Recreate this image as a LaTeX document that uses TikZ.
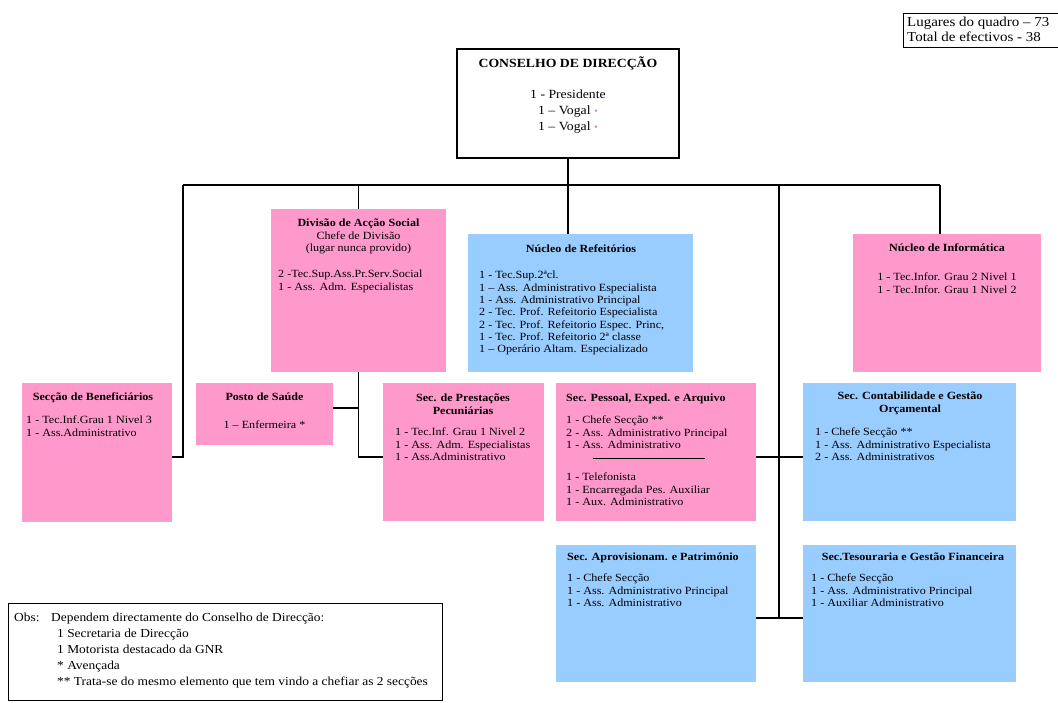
\documentclass[tikz,border=0pt]{standalone}
\usepackage{fontspec}
\setmainfont[FakeStretch=1.1]{Liberation Serif}
\usetikzlibrary{calc}
\definecolor{orgpink}{RGB}{255,153,204}
\definecolor{orgblue}{RGB}{153,204,255}
\definecolor{dotblue}{RGB}{150,175,230}
\definecolor{dotpink}{RGB}{235,125,165}
\newcommand{\boxfnt}{\fontsize{11}{12.3}\selectfont}
\newcommand{\topfnt}{\fontsize{12.5}{16}\selectfont}
\newcommand{\obsfnt}{\fontsize{12.2}{16}\selectfont}
\newcommand{\tinydot}[1]{\textcolor{#1}{\fontsize{10}{10}\selectfont\textbullet}}

\begin{document}
\begin{tikzpicture}[x=1pt,y=-1pt,
  unit/.style={draw=none, inner sep=0, outer sep=0, anchor=north west},
  pinkunit/.style={unit, fill=orgpink},
  blueunit/.style={unit, fill=orgblue},
  framed/.style={draw=black, line width=0.9pt, inner sep=0, outer sep=0, anchor=north west},
  txt/.style={inner sep=0, anchor=north west, align=left, font=\boxfnt},
  ctxt/.style={inner sep=0, anchor=north, align=center, font=\boxfnt},
  link/.style={draw=black, line width=1.1pt},
]
\fill[white] (0,0) rectangle (1058,702);
\useasboundingbox (0,0) rectangle (1058,702);

% ---------- board ----------
\node[framed, line width=1.1pt, minimum width=222, minimum height=109] (cd) at (457,49) {};
\node[inner sep=0, anchor=north, font=\topfnt\bfseries] (cdtitle) at (568,57) {CONSELHO DE DIRECÇÃO};
\node[inner sep=0, anchor=north, align=center, font=\topfnt] (cdbody) at (568,90)
  {1 - Presidente\\1 – Vogal \tinydot{dotblue}\\1 – Vogal \tinydot{dotpink}};

% ---------- staffing summary ----------
\node[framed, minimum width=170, minimum height=34] (summary) at (903,13) {};
\node[inner sep=0, anchor=north west, align=left, font=\fontsize{13.6}{15}\selectfont] (summarytxt) at (907,17)
  {Lugares do quadro – 73\\Total de efectivos - 38};

% ---------- units ----------
\node[pinkunit, minimum width=175, minimum height=163] (div) at (271,209) {};
\node[ctxt] (divtitle) at (358.5,219) {\textbf{Divisão de Acção Social}\\Chefe de Divisão\\(lugar nunca provido)};
\node[txt] (divbody) at (278,270) {2 -Tec.Sup.Ass.Pr.Serv.Social\\1 - Ass. Adm. Especialistas};

\node[blueunit, minimum width=225, minimum height=138] (ref) at (468,234) {};
\node[ctxt, font=\boxfnt\bfseries] (reftitle) at (581,245) {Núcleo de Refeitórios};
\node[txt] (refbody) at (479,271) {1 - Tec.Sup.2ªcl.\\1 – Ass. Administrativo Especialista\\1 - Ass. Administrativo Principal\\2 - Tec. Prof. Refeitorio Especialista\\2 - Tec. Prof. Refeitorio Espec. Princ,\\1 - Tec. Prof. Refeitorio 2ª classe\\1 – Operário Altam. Especializado};

\node[pinkunit, minimum width=188, minimum height=138] (inf) at (853,234) {};
\node[ctxt, font=\boxfnt\bfseries] (inftitle) at (947,244) {Núcleo de Informática};
\node[ctxt] (infbody) at (947,273) {1 - Tec.Infor. Grau 2 Nivel 1\\1 - Tec.Infor. Grau 1 Nivel 2};

\node[pinkunit, minimum width=150, minimum height=139] (benef) at (22,383) {};
\node[ctxt, font=\boxfnt\bfseries] (beneftitle) at (93,393) {Secção de Beneficiários};
\node[txt] (benefbody) at (26,416) {1 - Tec.Inf.Grau 1 Nivel 3\\1 - Ass.Administrativo};

\node[pinkunit, minimum width=137, minimum height=62] (posto) at (196,383) {};
\node[ctxt, font=\boxfnt\bfseries] (postotitle) at (264.5,393) {Posto de Saúde};
\node[ctxt] (postobody) at (264.5,421) {1 – Enfermeira *};

\node[pinkunit, minimum width=161, minimum height=138] (prest) at (383,383) {};
\node[ctxt, font=\boxfnt\bfseries] (presttitle) at (463,394) {Sec. de Prestações\\Pecuniárias};
\node[txt] (prestbody) at (395,428) {1 - Tec.Inf. Grau 1 Nivel 2\\1 - Ass. Adm. Especialistas\\1 - Ass.Administrativo};

\node[pinkunit, minimum width=200, minimum height=138] (pess) at (556,383) {};
\node[txt, font=\boxfnt\bfseries] (pesstitle) at (566,394) {Sec. Pessoal, Exped. e Arquivo};
\node[txt] (pessbodyA) at (566,416) {1 - Chefe Secção **\\2 - Ass. Administrativo Principal\\1 - Ass. Administrativo};
\node[txt] (pessbodyB) at (566,473) {1 - Telefonista\\1 - Encarregada Pes. Auxiliar\\1 - Aux. Administrativo};
\draw[line width=0.8pt] ($(pess.north west)+(37,75)$) -- ($(pess.north west)+(149,75)$);

\node[blueunit, minimum width=213, minimum height=138] (cont) at (803,383) {};
\node[ctxt, font=\boxfnt\bfseries] (conttitle) at (910,392) {Sec. Contabilidade e Gestão\\Orçamental};
\node[txt] (contbody) at (815,428) {1 - Chefe Secção **\\1 - Ass. Administrativo Especialista\\2 - Ass. Administrativos};

\node[blueunit, minimum width=200, minimum height=137] (aprov) at (556,545) {};
\node[txt, font=\boxfnt\bfseries] (aprovtitle) at (567,553) {Sec. Aprovisionam. e Património};
\node[txt] (aprovbody) at (567,574) {1 - Chefe Secção\\1 - Ass. Administrativo Principal\\1 - Ass. Administrativo};

\node[blueunit, minimum width=213, minimum height=137] (tes) at (803,545) {};
\node[ctxt, font=\boxfnt\bfseries] (testitle) at (913,553) {Sec.Tesouraria e Gestão Financeira};
\node[txt] (tesbody) at (811,574) {1 - Chefe Secção\\1 - Ass. Administrativo Principal\\1 - Auxiliar Administrativo};

% ---------- notes ----------
\node[framed, minimum width=434, minimum height=97] (obs) at (8,603) {};
\node[inner sep=0, anchor=north west, font=\obsfnt] (obslabel) at (14,613) {Obs:};
\node[inner sep=0, anchor=north west, font=\obsfnt] (obshead) at (51,613) {Dependem directamente do Conselho de Direcção:};
\node[inner sep=0, anchor=north west, align=left, font=\obsfnt] (obslist) at (57,629)
  {1 Secretaria de Direcção\\1 Motorista destacado da GNR\\* Avençada\\** Trata-se do mesmo elemento que tem vindo a chefiar as 2 secções};

% ---------- connectors ----------
\coordinate (busL) at (183,185);
\coordinate (busR) at (940,185);
\coordinate (busV) at (779,185);
\coordinate (vEnd) at (779,618);
\draw[link] (busL) -- (busR);
\draw[link] (cd.south) -- (cd.south |- ref.north);
\draw[link] (busL) |- ($(benef.north east)+(0,74)$);
\draw[link] (div.north |- busL) -- (div.north);
\draw[link] (busR) -- (busR |- inf.north);
\draw[link] (busV) -- (vEnd);
\draw[link] ($(pess.north east)+(0,74)$) -- ($(cont.north west)+(0,74)$);
\draw[link] ($(aprov.north east)+(0,73)$) -- ($(tes.north west)+(0,73)$);
\draw[link] (div.south) |- ($(prest.north west)+(0,74)$);
\draw[link] ($(posto.north east)+(0,25)$) -| (div.south);
\end{tikzpicture}
\end{document}
